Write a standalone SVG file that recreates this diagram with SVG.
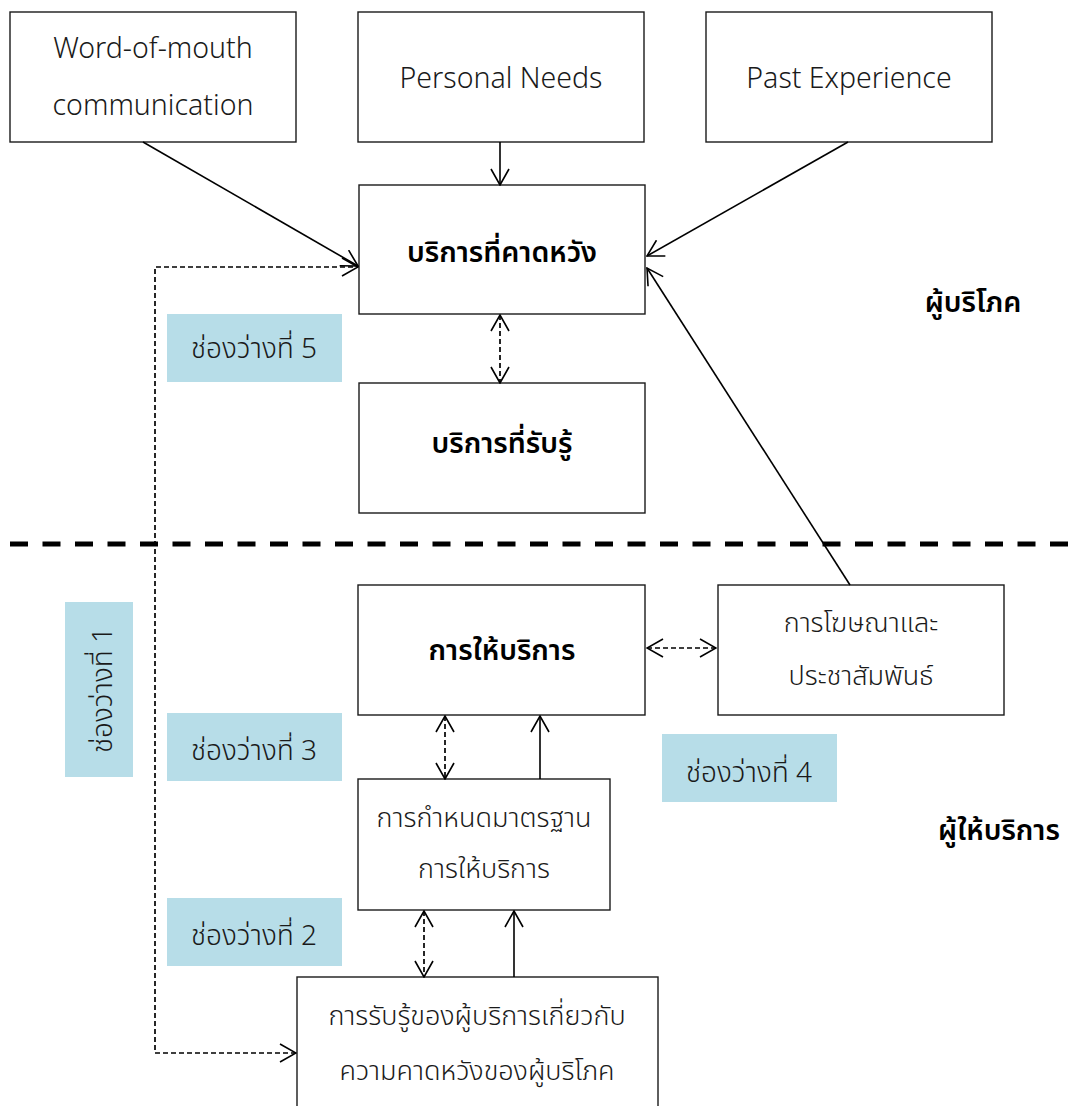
<svg xmlns="http://www.w3.org/2000/svg" width="1072" height="1106" viewBox="0 0 1072 1106">
  <style>
    .box { fill: #ffffff; stroke: #1a1a1a; stroke-width: 1.4; }
    .gap { fill: #b7dde8; }
    .t { font-family: "Noto Sans Thai", "Leelawadee UI", "Noto Sans", "Liberation Sans", sans-serif; font-size: 27px; fill: #1a1a1a; text-anchor: middle; font-weight: 300; }
    .lat { font-size: 28.5px; }
    .g { font-size: 28px; }
    .b { font-weight: 600; fill: #000; font-size: 28.5px; }
    .solid { fill: none; stroke: #000; stroke-width: 1.6; }
    .dash { fill: none; stroke: #000; stroke-width: 1.7; stroke-dasharray: 5 3; }
    .divider { fill: none; stroke: #000; stroke-width: 5; stroke-dasharray: 18 14.5; }
  </style>
  <defs>
    <marker id="arrow" viewBox="0 0 18 20" refX="17" refY="10" markerWidth="18" markerHeight="20" markerUnits="userSpaceOnUse" orient="auto-start-reverse">
      <path d="M1,1 L17,10 L1,19" fill="none" stroke="#000" stroke-width="1.6"/>
    </marker>
  </defs>

  <rect width="1072" height="1106" fill="#ffffff"/>

  <!-- consumer / provider divider -->
  <line class="divider" x1="10" y1="544" x2="1072" y2="544"/>

  <!-- gap labels -->
  <g id="gap5"><rect class="gap" x="167" y="314" width="175" height="68"/><text class="t g" x="254" y="358">ช่องว่างที่ 5</text></g>
  <g id="gap1"><rect class="gap" x="65" y="602" width="68" height="175"/><text class="t g" transform="translate(112 690) rotate(-90)" x="0" y="0">ช่องว่างที่ 1</text></g>
  <g id="gap3"><rect class="gap" x="167" y="713" width="175" height="68"/><text class="t g" x="254" y="760">ช่องว่างที่ 3</text></g>
  <g id="gap4"><rect class="gap" x="662" y="734" width="175" height="68"/><text class="t g" x="749" y="782">ช่องว่างที่ 4</text></g>
  <g id="gap2"><rect class="gap" x="167" y="898" width="175" height="68"/><text class="t g" x="254" y="945">ช่องว่างที่ 2</text></g>

  <!-- nodes -->
  <g id="word-of-mouth"><rect class="box" x="10" y="12" width="286" height="130"/><text class="t lat" x="153" y="58">Word-of-mouth</text><text class="t lat" x="153" y="115">communication</text></g>
  <g id="personal-needs"><rect class="box" x="358" y="12" width="286" height="130"/><text class="t lat" x="501" y="88">Personal Needs</text></g>
  <g id="past-experience"><rect class="box" x="706" y="12" width="286" height="130"/><text class="t lat" x="849" y="88">Past Experience</text></g>
  <g id="expected-service"><rect class="box" x="359" y="185" width="286" height="129"/><text class="t b" x="502" y="262">บริการที่คาดหวัง</text></g>
  <g id="perceived-service"><rect class="box" x="359" y="383" width="286" height="130"/><text class="t b" x="502" y="453">บริการที่รับรู้</text></g>
  <g id="consumer-label"><text class="t b" x="973" y="312">ผู้บริโภค</text></g>
  <g id="service-delivery"><rect class="box" x="358" y="585" width="287" height="130"/><text class="t b" x="502" y="660">การให้บริการ</text></g>
  <g id="communications"><rect class="box" x="718" y="585" width="286" height="130"/><text class="t" x="861" y="632">การโฆษณาและ</text><text class="t" x="861" y="685">ประชาสัมพันธ์</text></g>
  <g id="service-standards"><rect class="box" x="358" y="779" width="252" height="131"/><text class="t" x="484" y="827">การกำหนดมาตรฐาน</text><text class="t" x="484" y="878">การให้บริการ</text></g>
  <g id="management-perception"><rect class="box" x="297" y="977" width="361" height="140"/><text class="t" x="477" y="1025">การรับรู้ของผู้บริการเกี่ยวกับ</text><text class="t" x="477" y="1080">ความคาดหวังของผู้บริโภค</text></g>
  <g id="provider-label"><text class="t b" x="999" y="840">ผู้ให้บริการ</text></g>

  <!-- connectors -->
  <g id="connectors">
    <line class="solid" x1="143" y1="142" x2="358" y2="266" marker-end="url(#arrow)"/>
    <line class="solid" x1="500" y1="142" x2="500" y2="185" marker-end="url(#arrow)"/>
    <line class="solid" x1="848" y1="142" x2="647" y2="256" marker-end="url(#arrow)"/>
    <line class="solid" x1="850" y1="585" x2="647" y2="268" marker-end="url(#arrow)"/>
    <line class="dash" x1="500" y1="315" x2="500" y2="383" marker-start="url(#arrow)" marker-end="url(#arrow)"/>
    <path class="dash" d="M296,1053 H155 V267 H358" marker-start="url(#arrow)" marker-end="url(#arrow)"/>
    <line class="dash" x1="647" y1="648" x2="716" y2="648" marker-start="url(#arrow)" marker-end="url(#arrow)"/>
    <line class="dash" x1="445" y1="716" x2="445" y2="779" marker-start="url(#arrow)" marker-end="url(#arrow)"/>
    <line class="solid" x1="540" y1="779" x2="540" y2="716" marker-end="url(#arrow)"/>
    <line class="dash" x1="424" y1="911" x2="424" y2="977" marker-start="url(#arrow)" marker-end="url(#arrow)"/>
    <line class="solid" x1="514" y1="977" x2="514" y2="911" marker-end="url(#arrow)"/>
  </g>
</svg>
